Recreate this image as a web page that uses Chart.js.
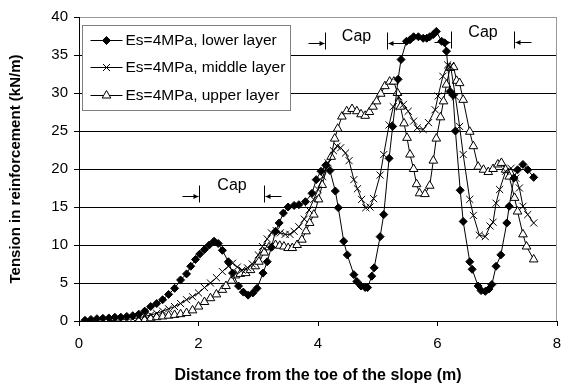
<!DOCTYPE html>
<html><head><meta charset="utf-8">
<script src="https://cdn.jsdelivr.net/npm/chart.js@4"></script>
<style>html,body{margin:0;padding:0;background:#fff;}</style>
</head><body>
<canvas id="c" width="563" height="385"></canvas>
<script>
// ---- data ----
const lowerX = [0.1,0.2,0.3,0.4,0.5,0.6,0.7,0.8,0.9,1.0,1.1,1.2,1.3,1.4,1.5,1.6,1.7,1.8,1.87,1.95,2.02,2.1,2.18,2.26,2.33,2.4,2.5,2.57,2.67,2.75,2.83,2.91,2.98,3.08,3.15,3.22,3.29,3.35,3.42,3.5,3.6,3.68,3.79,3.9,3.97,4.05,4.13,4.2,4.29,4.34,4.43,4.49,4.6,4.65,4.72,4.79,4.83,4.9,4.94,5.04,5.1,5.19,5.25,5.34,5.39,5.48,5.54,5.6,5.68,5.76,5.82,5.87,5.93,5.98,6.07,6.12,6.15,6.21,6.26,6.3,6.38,6.43,6.54,6.58,6.68,6.73,6.8,6.86,6.91,6.98,7.06,7.16,7.2,7.28,7.34,7.43,7.51,7.61];
const lowerY = [0.1,0.2,0.3,0.35,0.4,0.5,0.5,0.6,0.7,0.9,1.3,1.9,2.3,2.8,3.5,4.3,5.4,6.2,7.2,8.1,8.8,9.4,10.0,10.5,10.2,9.3,7.8,6.3,4.6,3.8,3.4,3.7,4.3,6.3,7.8,9.7,11.8,12.9,14.2,15.0,15.2,15.3,15.7,16.8,18.6,19.7,20.5,19.8,17.1,14.9,10.5,8.7,6.1,5.2,4.6,4.4,4.4,5.9,7.0,11.1,14.0,21.4,25.6,31.8,34.4,36.8,37.0,37.4,37.4,37.2,37.2,37.4,37.7,38.1,36.8,36.6,35.5,30.2,29.7,25.0,17.2,13.1,7.8,6.8,4.6,4.0,3.9,4.2,4.8,7.2,8.7,12.9,15.1,18.8,19.9,20.6,19.9,18.9];

const middleX = [0.5,0.6,0.7,0.8,0.9,1.0,1.1,1.2,1.3,1.4,1.5,1.6,1.7,1.8,1.9,2.0,2.1,2.2,2.3,2.4,2.5,2.57,2.65,2.73,2.82,2.9,3.0,3.07,3.15,3.22,3.3,3.37,3.45,3.53,3.6,3.68,3.77,3.85,3.93,4.0,4.08,4.17,4.26,4.32,4.38,4.46,4.52,4.6,4.66,4.73,4.8,4.87,4.93,5.04,5.1,5.19,5.26,5.35,5.43,5.51,5.6,5.66,5.76,5.85,5.96,6.01,6.09,6.17,6.22,6.3,6.37,6.43,6.54,6.6,6.7,6.8,6.88,6.93,6.98,7.04,7.14,7.23,7.31,7.37,7.43,7.51,7.61];
const middleY = [0.05,0.1,0.15,0.2,0.3,0.45,0.6,0.8,1.0,1.3,1.6,1.9,2.3,2.8,3.2,3.7,4.4,5.0,5.7,6.5,7.2,7.6,7.1,6.7,7.0,7.5,8.7,9.8,10.8,11.6,11.9,11.6,11.4,11.4,11.8,12.4,13.4,14.6,16.0,17.3,19.0,20.8,22.4,23.0,22.8,22.1,21.1,18.6,17.4,16.0,14.9,15.0,16.1,19.2,21.9,25.8,28.2,29.5,28.5,27.6,26.3,25.4,25.2,26.1,27.8,29.6,32.2,33.7,33.5,29.5,25.6,21.9,16.0,13.9,11.3,11.1,12.5,13.0,15.5,17.3,19.7,20.1,18.8,17.5,15.1,14.0,12.9];

const upperX = [1.0,1.1,1.2,1.3,1.4,1.5,1.6,1.7,1.8,1.9,2.0,2.1,2.2,2.3,2.4,2.46,2.55,2.62,2.7,2.79,2.87,2.95,3.01,3.1,3.18,3.29,3.36,3.43,3.5,3.57,3.65,3.73,3.8,3.86,3.93,4.01,4.07,4.15,4.22,4.28,4.33,4.4,4.48,4.57,4.65,4.72,4.79,4.86,4.92,4.98,5.05,5.12,5.2,5.27,5.33,5.38,5.44,5.49,5.54,5.6,5.65,5.7,5.79,5.87,5.93,5.98,6.05,6.1,6.15,6.21,6.27,6.32,6.37,6.43,6.54,6.6,6.68,6.77,6.85,6.93,7.01,7.07,7.14,7.2,7.29,7.34,7.43,7.49,7.61];
const upperY = [0.1,0.2,0.35,0.5,0.6,0.7,0.8,0.9,1.05,1.4,1.9,2.5,3.0,3.5,4.1,4.6,5.3,6.0,6.2,6.3,6.7,7.2,7.8,9.0,9.7,10.0,9.9,9.8,9.6,9.6,10.0,10.7,11.8,12.9,14.0,16.0,17.9,20.2,21.6,24.0,25.3,26.9,27.6,27.9,27.6,27.2,27.0,27.5,28.2,28.9,29.9,30.9,31.5,31.5,30.0,28.2,26.0,24.1,21.9,20.0,18.0,16.8,16.7,17.8,21.1,24.0,26.8,28.9,31.1,33.3,33.4,31.6,31.3,29.1,24.9,23.0,20.3,19.9,19.6,20.0,20.6,20.8,19.9,19.0,16.2,14.4,11.4,9.8,8.1];

const seriesLabels = ['Es=4MPa, lower layer','Es=4MPa, middle layer','Es=4MPa, upper layer'];
const xTickValues = [0,2,4,6,8];
const yTickValues = [0,5,10,15,20,25,30,35,40];
const xTitle = 'Distance from the toe of the slope (m)';
const yTitle = 'Tension in reinforcement (kN/m)';
const capLabel = 'Cap';
const capStart = [2.01,4.11,6.23];
const capEnd = [3.09,5.16,7.28];
const capArrowLevel = [16.5,36.6,36.75];
const capTextLevel = [17.3,36.8,37.4];

// ---- drawing ----
const FONT = "'Liberation Sans', Arial, sans-serif";
const toPts = (xs, ys) => xs.map((x, i) => ({x: x, y: ys[i]}));
const styles = [
  {pointStyle:'rectRot', radius:4, bg:'#000', bw:1},
  {pointStyle:'crossRot', radius:5, bg:'#000', bw:1},
  {pointStyle:'triangle', radius:5, bg:'#fff', bw:1}
];
const series = [[lowerX, lowerY],[middleX, middleY],[upperX, upperY]];

const framePlugin = {
  id: 'frame',
  beforeDatasetsDraw(chart) {
    const {ctx, chartArea: a} = chart;
    ctx.save();
    ctx.strokeStyle = '#999'; ctx.lineWidth = 1;
    ctx.beginPath();
    ctx.moveTo(Math.round(a.right) - 0.5, a.top);
    ctx.lineTo(Math.round(a.right) - 0.5, a.bottom);
    ctx.stroke();
    ctx.restore();
  }
};

function drawMarker(ctx, st, x, y) {
  ctx.fillStyle = st.bg; ctx.strokeStyle = '#000'; ctx.lineWidth = st.bw;
  if (Chart.helpers && Chart.helpers.drawPoint) {
    Chart.helpers.drawPoint(ctx, {pointStyle: st.pointStyle, radius: st.radius, borderWidth: st.bw, rotation: 0}, x, y);
  }
}

const capPlugin = {
  id: 'caps',
  afterDatasetsDraw(chart) {
    const {ctx, scales: {x: xs, y: ys}} = chart;
    ctx.save();
    ctx.strokeStyle = '#000'; ctx.fillStyle = '#000'; ctx.lineWidth = 1;
    for (let i = 0; i < capStart.length; i++) {
      const x1 = Math.round(xs.getPixelForValue(capStart[i])) + 0.5;
      const x2 = Math.round(xs.getPixelForValue(capEnd[i])) + 0.5;
      const ya = Math.round(ys.getPixelForValue(capArrowLevel[i])) + 0.5;
      ctx.beginPath();
      ctx.moveTo(x1, ya - 11); ctx.lineTo(x1, ya + 6);
      ctx.moveTo(x1 - 17, ya); ctx.lineTo(x1 - 1, ya);
      ctx.moveTo(x2, ya - 11); ctx.lineTo(x2, ya + 6);
      ctx.moveTo(x2 + 1, ya); ctx.lineTo(x2 + 17, ya);
      ctx.stroke();
      ctx.beginPath();
      ctx.moveTo(x1 - 1, ya); ctx.lineTo(x1 - 6, ya - 2.5); ctx.lineTo(x1 - 6, ya + 2.5); ctx.closePath();
      ctx.moveTo(x2 + 1, ya); ctx.lineTo(x2 + 6, ya - 2.5); ctx.lineTo(x2 + 6, ya + 2.5); ctx.closePath();
      ctx.fill();
      ctx.font = '16px ' + FONT;
      ctx.textAlign = 'center'; ctx.textBaseline = 'alphabetic';
      ctx.fillText(capLabel, (x1 + x2) / 2, ys.getPixelForValue(capTextLevel[i]));
    }
    ctx.restore();
  }
};

const legendPlugin = {
  id: 'innerLegend',
  afterDatasetsDraw(chart) {
    const {ctx, chartArea: a} = chart;
    const left = a.left + 3.5, top = a.top + 8.5, w = 208, h = 85;
    ctx.save();
    ctx.fillStyle = '#fff';
    ctx.fillRect(left, top, w, h);
    ctx.strokeStyle = '#808080'; ctx.lineWidth = 1;
    ctx.strokeRect(left, top, w, h);
    ctx.font = '15.5px ' + FONT;
    ctx.textAlign = 'left'; ctx.textBaseline = 'middle';
    for (let i = 0; i < seriesLabels.length; i++) {
      const yy = Math.round(top + 14 + i * 27.5) + 0.5;
      ctx.strokeStyle = '#000'; ctx.lineWidth = 1;
      ctx.beginPath(); ctx.moveTo(left + 8, yy); ctx.lineTo(left + 40, yy); ctx.stroke();
      drawMarker(ctx, styles[i], left + 24, yy);
      ctx.fillStyle = '#000';
      ctx.fillText(seriesLabels[i], left + 43, yy);
    }
    ctx.restore();
  }
};

new Chart(document.getElementById('c'), {
  type: 'scatter',
  data: {
    datasets: series.map((s, i) => ({
      label: seriesLabels[i],
      data: toPts(s[0], s[1]),
      showLine: true,
      borderColor: '#000',
      borderWidth: 1,
      tension: 0,
      pointStyle: styles[i].pointStyle,
      pointRadius: styles[i].radius,
      pointBackgroundColor: styles[i].bg,
      pointBorderColor: '#000',
      pointBorderWidth: styles[i].bw
    }))
  },
  options: {
    responsive: false,
    animation: false,
    devicePixelRatio: 1,
    layout: {padding: {top: 17, right: 4, left: 0, bottom: 0}},
    plugins: {legend: {display: false}, tooltip: {enabled: false}},
    scales: {
      x: {
        type: 'linear', min: 0, max: 8,
        afterBuildTicks: s => { s.ticks = xTickValues.map(v => ({value: v})); },
        ticks: {color: '#000', font: {family: FONT, size: 15}, padding: 9, maxRotation: 0, autoSkip: false},
        grid: {drawOnChartArea: false, drawTicks: true, tickLength: 5, color: '#000', tickColor: '#000'},
        border: {color: '#000', width: 1},
        title: {display: true, text: xTitle, color: '#000', font: {family: FONT, size: 16, weight: 'bold'}, padding: {top: 0, bottom: 0}},
        afterFit: s => { s.height = 64; s.paddingLeft = 0; s.paddingRight = 0; }
      },
      y: {
        type: 'linear', min: 0, max: 40,
        afterBuildTicks: s => { s.ticks = yTickValues.map(v => ({value: v})); },
        ticks: {color: '#000', font: {family: FONT, size: 15}, padding: 6, autoSkip: false},
        grid: {color: c => (c.tick && c.tick.value === 40) ? '#999' : '#000', tickColor: '#000', tickLength: 5, drawTicks: true},
        border: {color: '#000', width: 1},
        title: {display: true, text: yTitle, color: '#000', font: {family: FONT, size: 15, weight: 'bold'}, padding: {top: 7, bottom: 0}},
        afterFit: s => { s.width = 79; s.paddingTop = 0; s.paddingBottom = 0; }
      }
    }
  },
  plugins: [framePlugin, capPlugin, legendPlugin]
});
</script>
</body></html>
